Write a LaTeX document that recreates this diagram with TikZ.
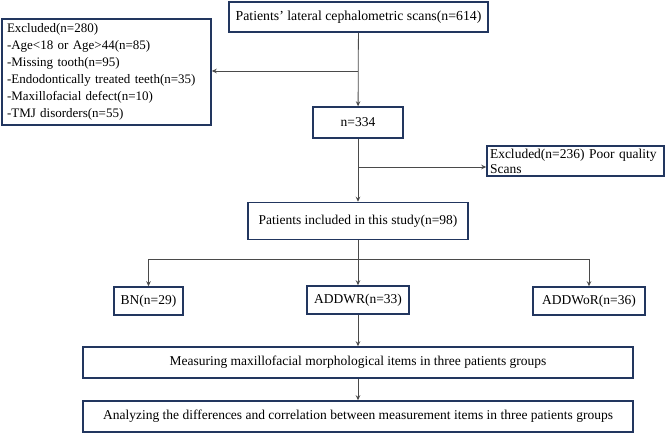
\documentclass[tikz,border=0pt]{standalone}
\usepackage{fontspec}
\setmainfont{Liberation Serif}
\usetikzlibrary{arrows.meta}
\definecolor{boxblue}{HTML}{22365F}
\definecolor{linegrey}{HTML}{4A4A4A}
\tikzset{
  box/.style={draw=boxblue,line width=1.5pt,inner sep=2pt,font=\fontsize{13.5}{15}\selectfont},
  flow/.style={draw=linegrey,line width=0.8pt,-{Stealth[length=5pt,width=4.5pt]}}
}
\begin{document}
\begin{tikzpicture}[x=1pt,y=-1pt]
  \useasboundingbox (0,0) rectangle (669,434);
  \node[box,minimum width=259,minimum height=30,font=\fontsize{13.8}{15}\selectfont] (scans) at (358.5,17) {Patients' lateral cephalometric scans(n=614)};
  \node[box,minimum width=209,minimum height=106,text width=199,align=left,inner xsep=5pt,
        font=\fontsize{13}{17}\selectfont] (excla) at (106.5,72)
    {Excluded(n=280)\\-Age<18 or Age>44(n=85)\\-Missing tooth(n=95)\\-Endodontically treated teeth(n=35)\\-Maxillofacial defect(n=10)\\-TMJ disorders(n=55)};
  \node[box,minimum width=90,minimum height=31] (mid) at (358,122.5) {n=334};
  \node[box,minimum width=177,minimum height=30,text width=171,align=left,inner xsep=3pt,inner ysep=1pt] (exclb) at (575.5,161)
    {Excluded(n=236) Poor quality\\Scans};
  \node[box,minimum width=220,minimum height=37] (incl) at (358,221) {Patients included in this study(n=98)};
  \node[box,minimum width=69,minimum height=28] (bn) at (148.5,301) {BN(n=29)};
  \node[box,minimum width=102,minimum height=28] (wr) at (358,300) {ADDWR(n=33)};
  \node[box,minimum width=112,minimum height=28] (wor) at (589,301) {ADDWoR(n=36)};
  \node[box,minimum width=550,minimum height=31] (meas) at (358,362.5) {Measuring maxillofacial morphological items in three patients groups};
  \node[box,minimum width=550,minimum height=31] (anal) at (358,416.5) {Analyzing the differences and correlation between measurement items in three patients groups};
  \coordinate (ja) at (358,71);
  \coordinate (jb) at (358,167);
  \coordinate (jc) at (358,259);
  % connectors
  \draw[flow] (scans) -- (mid);
  \draw[flow] (ja) -- (ja -| excla.east);
  \draw[flow] (mid) -- (incl);
  \draw[flow] (jb) -- (jb -| exclb.west);
  \draw[flow] (incl) -- (wr);
  \draw[flow] (jc) -| (bn.north);
  \draw[flow] (jc) -| (wor.north);
  \draw[flow] (wr) -- (meas);
  \draw[flow] (meas) -- (anal);
\end{tikzpicture}
\end{document}
